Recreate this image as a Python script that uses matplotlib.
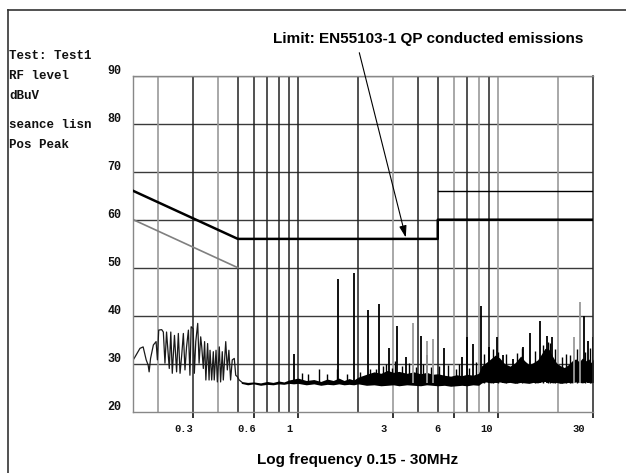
import matplotlib
matplotlib.use('Agg')
import matplotlib.pyplot as plt
from matplotlib import transforms
from matplotlib.lines import Line2D

# ---------------- data ----------------
y_ticks = [20, 30, 40, 50, 60, 70, 80, 90]
x_tick_vals = [0.3, 0.6, 1, 3, 6, 10, 30]
x_tick_labels = ['0.3', '0.6', '1', '3', '6', '10', '30']
grid_black = [0.3, 0.5, 0.6, 0.7, 0.8, 0.9, 1, 2, 4, 5, 7, 9]
grid_gray = [0.2, 0.4, 3, 6, 8, 10, 20]

# limit lines (MHz, dBuV)
limit_qp_f = [0.15, 0.5, 5, 5, 30]
limit_qp_v = [66, 56, 56, 60, 60]
limit_hi_f = [5, 30]
limit_hi_v = [66, 66]
limit_av_f = [0.15, 0.5]
limit_av_v = [60, 50]

# measured trace, low-frequency part
lf_freq = [0.150, 0.162, 0.168, 0.174, 0.178, 0.180, 0.183, 0.189, 0.195, 0.198,
           0.201, 0.208, 0.212, 0.216, 0.220, 0.227, 0.231, 0.235, 0.241, 0.247,
           0.252, 0.257, 0.262, 0.267, 0.272, 0.277, 0.283, 0.288, 0.292, 0.299,
           0.303, 0.308, 0.315, 0.320, 0.326, 0.330, 0.336, 0.341, 0.346, 0.353,
           0.359, 0.363, 0.370, 0.377, 0.381, 0.389, 0.395, 0.404, 0.410, 0.418,
           0.423, 0.435, 0.443, 0.451, 0.460, 0.469, 0.480, 0.488, 0.497, 0.508,
           0.522]
lf_level = [30.8, 33.2, 33.5, 30.8, 29.7, 28.3, 31.1, 33.9, 34.6, 30.8,
            37.0, 37.1, 36.6, 30.1, 36.6, 29.0, 36.6, 28.0, 35.9, 28.3,
            36.3, 28.0, 31.8, 36.3, 28.7, 33.5, 37.0, 27.6, 37.7, 37.3,
            28.0, 34.6, 38.4, 30.1, 35.6, 33.5, 29.0, 34.6, 26.6, 34.2,
            26.6, 32.8, 26.6, 32.5, 26.6, 32.8, 26.2, 33.5, 26.2, 32.5,
            26.6, 34.6, 28.7, 32.8, 26.6, 30.8, 31.1, 27.6, 27.3, 26.6,
            26.2]

# noise floor envelope
band_f = [0.52, 0.56, 0.60, 0.65, 0.70, 0.75, 0.80, 0.85, 0.90, 0.95,
          1.00, 1.1, 1.2, 1.3, 1.4, 1.5, 1.6, 1.7, 1.8, 1.9,
          2.0, 2.2, 2.4, 2.6, 2.8, 3.0, 3.2, 3.5, 3.8, 4.1,
          4.4, 4.7, 5.0, 5.4, 5.8, 6.2, 6.6, 7.0, 7.5, 8.0,
          8.3, 8.7, 9.2, 9.7, 10.2, 10.8, 11.5, 12.2, 13.0, 13.6,
          14.3, 15.0, 15.8, 16.5, 17.2, 18.0, 18.8, 19.6, 20.5, 21.5,
          22.5, 23.5, 24.5, 25.5, 26.5, 27.5, 28.5, 29.3, 30.0]
band_lo = [25.9, 25.6, 25.8, 25.5, 25.7, 25.6, 25.8, 25.7, 25.9, 25.8,
           25.9, 25.6, 25.8, 25.5, 25.7, 25.6, 25.8, 25.6, 25.7, 25.6,
           25.8, 25.5, 25.6, 25.4, 25.5, 25.6, 25.4, 25.6, 25.5, 25.4,
           25.6, 25.5, 25.4, 25.5, 25.3, 25.4, 25.5, 25.4, 25.6, 25.5,
           26.0, 26.2, 26.0, 26.1, 26.2, 26.0, 26.1, 25.9, 26.1, 26.0,
           25.9, 26.1, 26.0, 26.2, 26.3, 26.2, 26.0, 26.1, 25.9, 26.0,
           26.1, 26.0, 26.2, 26.1, 26.0, 26.2, 26.1, 26.0, 26.1]
band_hi = [26.3, 26.1, 26.2, 26.0, 26.3, 26.1, 26.4, 26.2, 26.6, 26.8,
           27.0, 26.5, 26.7, 26.3, 26.8, 26.5, 27.0, 26.5, 26.9, 26.6,
           27.2, 27.8, 28.3, 28.0, 28.6, 28.2, 28.4, 28.0, 28.3, 27.9,
           28.2, 27.8, 27.9, 27.6, 27.4, 27.7, 27.5, 27.8, 27.6, 28.0,
           29.6, 30.2, 31.0, 31.8, 31.2, 30.0, 29.5, 30.2, 31.6, 30.6,
           29.8, 30.2, 30.8, 32.0, 33.2, 33.0, 31.5, 30.2, 29.6, 29.2,
           29.8, 30.6, 31.0, 30.4, 31.2, 30.6, 31.0, 30.2, 31.0]

# small "grass" spikes (MHz, top dBuV)
grass_f = [1.05, 1.125, 1.27, 1.39, 1.56, 1.75, 2.05, 2.3, 2.45, 2.65,
           2.75, 2.95, 3.05, 3.3, 3.6, 3.9, 4.2, 4.6, 5.1, 5.6,
           6.2, 6.4, 7.2, 7.8, 8.5, 9.4, 10.0, 11.0, 12.5, 13.2,
           15.3, 16.8, 17.8, 18.3, 19.2, 21.0, 22.0, 23.0, 24.8, 27.2, 29.0]
grass_top = [28.0, 27.8, 29.0, 27.8, 28.8, 27.9, 28.3, 29.0, 28.9, 29.5,
             30.0, 29.2, 30.5, 29.6, 30.2, 29.4, 30.0, 29.3, 29.6, 29.8,
             29.0, 30.0, 29.2, 30.3, 32.0, 33.0, 32.5, 32.0, 32.3, 33.2,
             32.6, 34.0, 34.6, 34.3, 33.0, 31.5, 32.0, 31.8, 33.0, 32.5, 33.2]

# emission spikes (MHz, top dBuV)
spike_f = [0.96, 1.59, 1.91, 2.23, 2.54, 2.85, 3.135, 3.47, 4.11, 4.40,
           5.37, 6.59, 6.98, 7.53, 8.22, 9.05, 9.93, 10.6, 11.9, 13.4,
           14.5, 16.2, 17.5, 18.6, 26.9, 28.3, 29.8]
spike_top = [32.0, 47.7, 48.9, 41.1, 42.4, 33.2, 37.8, 31.3, 35.7, 31.8,
             33.2, 31.4, 35.5, 34.1, 42.0, 33.5, 35.5, 31.8, 31.0, 33.4,
             36.3, 38.9, 35.7, 35.5, 39.9, 34.8, 35.5]
spike_gray_f = [3.76, 4.42, 4.75, 24.1, 25.7]
spike_gray_top = [38.4, 34.8, 35.1, 35.5, 42.9]

# ---------------- figure ----------------
W, H = 626, 473
fig = plt.figure(figsize=(W / 100, H / 100), dpi=100)
fig.patch.set_facecolor('white')
ax = fig.add_axes([133.3 / W, 61.3 / H, 460 / W, 336 / H])
ax.set_xscale('log')
ax.set_xlim(0.15, 30)
ax.set_ylim(20, 90)

for sp in ['left', 'bottom', 'top']:
    ax.spines[sp].set_color('#888888')
    ax.spines[sp].set_linewidth(1.0)
ax.spines['right'].set_color('#222222')
ax.spines['right'].set_linewidth(1.1)

# grid
for v in y_ticks[1:-1]:
    ax.axhline(v, color='#3a3a3a', lw=1.0, zorder=1)
ax.axhline(90, color='#555555', lw=1.0, zorder=1)
for f in grid_black:
    ax.axvline(f, color='#222222', lw=1.1, zorder=1)
for f in grid_gray:
    ax.axvline(f, color='#9a9a9a', lw=1.2, zorder=1)

# ticks below axis
ax.minorticks_off()
ax.set_xticks(x_tick_vals)
ax.set_xticklabels([])
ax.set_yticks([])
ax.tick_params(axis='x', direction='out', length=4.2, width=1.2, color='#111111')

# trace
ax.plot(lf_freq, lf_level, color='#1a1a1a', lw=0.9, zorder=2)
ax.fill_between(band_f, band_lo, band_hi, color='black', lw=0, zorder=2)
base = 26.0
ax.vlines(grass_f, base, grass_top, color='black', lw=1.0, zorder=2)
ax.vlines(spike_f, base, spike_top, color='black', lw=1.3, zorder=2)
ax.vlines(spike_gray_f, base, spike_gray_top, color='#9a9a9a', lw=1.3, zorder=2)

# limits
ax.plot(limit_av_f, limit_av_v, color='#808080', lw=1.2, zorder=3)
ax.plot(limit_hi_f, limit_hi_v, color='black', lw=1.0, zorder=3)
ax.plot(limit_qp_f, limit_qp_v, color='black', lw=1.8, zorder=3)

mono = dict(family='Liberation Mono', weight='bold', color='#111111')

# y labels
ytr = transforms.offset_copy(ax.get_yaxis_transform(), fig=fig, x=-11.6, y=4.5, units='dots')
for v in y_ticks:
    ax.text(0, v, str(v), transform=ytr, ha='right', va='center', fontsize=8.5, **mono)

# x labels
x_label_shift = [-10, -7, -9, -10, -16, -11, -15]
for v, lab, dx in zip(x_tick_vals, x_tick_labels, x_label_shift):
    tr = transforms.offset_copy(ax.get_xaxis_transform(), fig=fig, x=dx, y=-17.3, units='dots')
    ax.text(v, 0, lab, transform=tr, ha='center', va='center', fontsize=7.5, **mono)

# left text block
left_lines = ['Test: Test1', 'RF level', 'dBuV', 'seance lisn', 'Pos Peak']
left_y = [56, 76, 96, 125, 145]
for t, yy in zip(left_lines, left_y):
    fig.text(9 / W, 1 - yy / H, t, ha='left', va='center', fontsize=9, **mono)

# annotation
sans = dict(family='Liberation Sans', weight='bold', color='black')
fig.text(428 / W, 1 - 39 / H, 'Limit: EN55103-1 QP conducted emissions',
         ha='center', va='center', fontsize=11, **sans)
ax.annotate('', xy=(3.46, 56.3), xytext=(359.3 / W, 1 - 52.7 / H),
            textcoords='figure fraction', xycoords='data',
            arrowprops=dict(arrowstyle='-|>,head_length=0.7,head_width=0.22',
                            lw=0.8, color='black', mutation_scale=10,
                            shrinkA=0, shrinkB=0), zorder=4)

fig.text(358 / W, 1 - 460 / H, 'Log frequency 0.15 - 30MHz',
         ha='center', va='center', fontsize=11, **sans)

# outer frame
fig.add_artist(Line2D([8 / W, 1.0], [1 - 10 / H, 1 - 10 / H], transform=fig.transFigure,
                      color='#333333', lw=1.2))
fig.add_artist(Line2D([8 / W, 8 / W], [0, 1 - 10 / H], transform=fig.transFigure,
                      color='#333333', lw=1.2))

fig.savefig('out.png', dpi=100, facecolor='white')
